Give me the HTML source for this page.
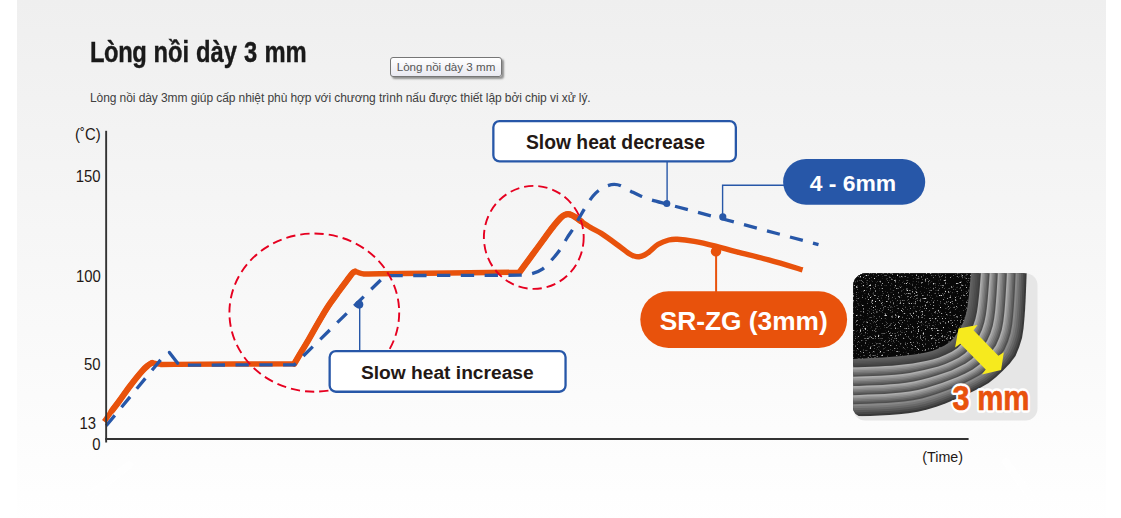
<!DOCTYPE html>
<html lang="vi">
<head>
<meta charset="utf-8">
<title>Lòng nồi dày 3 mm</title>
<style>
html,body{margin:0;padding:0;background:#fff;}
body{width:1121px;height:518px;overflow:hidden;position:relative;font-family:"Liberation Sans",sans-serif;}
#panel{position:absolute;left:17px;top:0;width:1089px;height:518px;
 background:linear-gradient(to bottom,#efefef 0px,#ffffff 527px);}
#h{position:absolute;left:89.5px;top:36.4px;margin:0;font-size:30px;line-height:32px;font-weight:bold;color:#1a1a1a;white-space:nowrap;transform-origin:0 0;transform:scaleX(0.792);word-spacing:0.6px;-webkit-text-stroke:0.4px #1a1a1a;}
#sub{position:absolute;left:90px;top:91px;margin:0;font-size:12px;letter-spacing:-0.083px;line-height:14px;color:#404040;white-space:nowrap;}
#tip{position:absolute;left:390px;top:57px;width:110px;height:17px;padding-bottom:1px;border:1px solid #767676;border-radius:3px;background:linear-gradient(#fff,#e9e9f1);
 box-shadow:2px 2px 2px rgba(0,0,0,.4);font-size:11.6px;line-height:17px;color:#555;text-align:center;white-space:nowrap;}
svg{position:absolute;left:0;top:0;}
svg text{font-family:"Liberation Sans",sans-serif;}
</style>
</head>
<body>
<div id="panel"></div>
<h1 id="h"><span style="letter-spacing:-0.55px">Lòng</span> nồi dày 3 mm</h1>
<p id="sub">Lòng nồi dày 3mm giúp cấp nhiệt phù hợp với chương trình nấu được thiết lập bởi chip vi xử lý.</p>
<div id="tip">Lòng nồi dày 3 mm</div>
<svg width="1121" height="518" viewBox="0 0 1121 518">
<g stroke="#fff" stroke-width="7" stroke-linecap="round" opacity="0.9"><line x1="129" y1="465" x2="92" y2="494"/><line x1="1006" y1="462" x2="1031" y2="497"/></g>
<g id="axlabels" font-size="16" fill="#231815">
<text transform="translate(75,139.6) scale(0.93,1)">(˚C)</text>
<text transform="translate(100.6,182.2) scale(0.93,1)" text-anchor="end">150</text>
<text transform="translate(100.8,281.6) scale(0.93,1)" text-anchor="end">100</text>
<text transform="translate(100.6,369.6) scale(0.93,1)" text-anchor="end">50</text>
<text transform="translate(96,428.6) scale(0.93,1)" text-anchor="end">13</text>
<text transform="translate(100.6,450) scale(0.93,1)" text-anchor="end">0</text>
<text x="922.3" y="462.3" font-size="14.3">(Time)</text>
</g>
<!-- curves -->
<path id="orange" fill="none" stroke="#e8520c" stroke-width="5.4" stroke-linejoin="round" d="M104.2,421.6 C105.5,419.8 109.2,414.4 111.7,411.0 C114.2,407.6 116.0,405.4 119.0,401.3 C122.0,397.2 126.0,391.3 129.8,386.3 C133.6,381.3 139.0,374.6 142.0,371.2 C145.0,367.8 146.1,367.0 147.8,365.6 C149.5,364.2 150.6,363.2 152.0,362.9 C153.4,362.6 155.0,363.4 156.5,363.7 C158.0,363.9 157.9,364.3 161.0,364.4 C164.1,364.5 152.8,364.5 175.0,364.4 C197.2,364.3 274.4,363.8 294.3,363.7 C295.5,361.7 299.1,355.5 301.5,351.5 C303.9,347.5 306.4,343.5 308.7,339.5 C311.0,335.5 313.2,331.5 315.5,327.5 C317.8,323.5 320.1,319.5 322.5,315.5 C324.9,311.5 327.1,307.8 330.0,303.6 C332.9,299.4 336.8,294.2 339.6,290.3 C342.4,286.4 344.8,283.2 347.0,280.3 C349.2,277.4 351.3,274.4 352.6,273.0 C353.9,271.6 354.0,271.7 355.0,271.6 C356.0,271.5 357.0,272.2 358.5,272.6 C360.0,273.0 360.4,273.7 364.0,273.9 C367.6,274.1 354.1,274.1 380.0,273.8 C405.9,273.5 496.3,272.5 519.6,272.2 C521.0,270.2 525.4,264.2 528.3,260.3 C531.2,256.4 534.1,252.4 537.0,248.5 C539.9,244.6 542.9,240.4 545.7,236.6 C548.5,232.8 551.5,228.6 554.0,225.5 C556.5,222.4 558.8,219.8 560.5,218.0 C562.2,216.2 563.2,215.6 564.5,215.0 C565.8,214.4 566.8,214.2 568.0,214.2 C569.2,214.2 570.7,214.6 572.0,215.2 C573.3,215.8 574.5,216.6 576.0,217.6 C577.5,218.6 578.5,219.6 581.0,221.3 C583.5,223.0 587.3,225.6 590.7,227.6 C594.1,229.6 597.0,230.7 601.3,233.4 C605.5,236.1 611.6,240.6 616.2,244.0 C620.8,247.4 625.9,251.6 628.9,253.6 C631.9,255.6 632.3,255.5 634.0,256.0 C635.7,256.5 637.4,256.9 639.1,256.7 C640.9,256.5 642.7,255.9 644.5,255.0 C646.3,254.1 647.4,253.2 649.7,251.4 C652.0,249.6 655.0,246.2 658.2,244.3 C661.4,242.4 665.6,240.8 668.8,240.0 C672.0,239.2 673.0,239.1 677.3,239.3 C681.5,239.5 687.9,240.2 694.3,241.3 C700.7,242.4 708.5,244.3 715.6,246.1 C722.7,247.9 728.0,249.6 736.8,251.9 C745.6,254.2 757.6,256.9 768.6,259.9 C779.6,262.9 796.9,268.2 802.6,269.9"/>
<path fill="none" stroke="#e8520c" stroke-width="6.2" stroke-linecap="round" stroke-linejoin="round" d="M111.7,411.0 C112.9,409.4 116.0,405.4 119.0,401.3 C122.0,397.2 126.0,391.3 129.8,386.3 C133.6,381.3 139.0,374.6 142.0,371.2 C145.0,367.8 146.1,367.0 147.8,365.6 C149.5,364.2 151.3,363.3 152.0,362.9 M294.3,363.7 C295.5,361.7 299.1,355.5 301.5,351.5 C303.9,347.5 306.4,343.5 308.7,339.5 C311.0,335.5 313.2,331.5 315.5,327.5 C317.8,323.5 320.1,319.5 322.5,315.5 C324.9,311.5 327.1,307.8 330.0,303.6 C332.9,299.4 336.8,294.2 339.6,290.3 C342.4,286.4 344.8,283.2 347.0,280.3 C349.2,277.4 351.3,274.4 352.6,273.0 C353.9,271.6 354.6,271.8 355.0,271.6 M519.6,272.2 C521.0,270.2 525.4,264.2 528.3,260.3 C531.2,256.4 534.1,252.4 537.0,248.5 C539.9,244.6 542.9,240.4 545.7,236.6 C548.5,232.8 551.5,228.6 554.0,225.5 C556.5,222.4 558.8,219.8 560.5,218.0 C562.2,216.2 563.2,215.6 564.5,215.0 C565.8,214.4 566.8,214.2 568.0,214.2 C569.2,214.2 570.7,214.6 572.0,215.2 C573.3,215.8 574.5,216.6 576.0,217.6 C577.5,218.6 580.2,220.7 581.0,221.3"/>
<g id="blue" fill="none" stroke="#2757a8" stroke-width="3.3">
<path d="M106.2,425.8 L160.7,359.7" stroke-dasharray="13.5 10.5"/>
<path d="M169.4,352.4 L177.7,363.3" stroke-linecap="round"/>
<path d="M187.9,365.1 L294.3,364.8 L385.2,275.6 L519.6,275.2 C521.7,274.9 528.1,274.7 532.0,273.6 C535.9,272.5 539.4,271.2 542.8,268.8 C546.2,266.4 549.5,262.3 552.5,259.0 C555.5,255.7 558.1,252.5 560.5,249.0 C562.9,245.5 564.8,241.6 567.0,238.0 C569.2,234.4 571.8,231.2 574.0,227.5 C576.2,223.8 578.2,219.7 580.3,216.0 C582.4,212.3 584.4,208.8 586.5,205.5 C588.6,202.2 590.8,198.7 593.0,196.0 C595.2,193.3 597.5,191.2 600.0,189.5 C602.5,187.8 605.5,186.4 607.9,185.6 C610.3,184.8 612.0,184.4 614.2,184.4 C616.4,184.4 618.2,184.6 621.0,185.8 C623.8,187.0 627.7,189.7 631.1,191.4 C634.5,193.1 637.7,194.8 641.2,196.2 C644.7,197.6 647.6,198.8 651.9,200.1 C656.1,201.4 664.2,203.3 666.7,204.0 L818.5,244.6" stroke-dasharray="13.3 10.5"/>
</g>
<!-- axes -->
<g id="axes" fill="#333">
<rect x="105.2" y="130.8" width="1.9" height="311.7"/>
<rect x="105.2" y="438" width="863.4" height="2"/>
</g>
<!-- red circles -->
<g fill="none" stroke="#e60020" stroke-width="1.9" stroke-dasharray="9.3 5">
<ellipse cx="314.3" cy="312.6" rx="84.9" ry="79.1"/>
<ellipse cx="533.8" cy="237.4" rx="49.9" ry="51.5"/>
</g>
<!-- callouts -->
<g id="callouts">
<line x1="359.7" y1="305" x2="359.7" y2="351" stroke="#2757a8" stroke-width="1.4"/>
<circle cx="359.2" cy="304.6" r="4.1" fill="#2757a8"/>
<rect x="329.65" y="351.05" width="235.9" height="40.7" rx="6.2" fill="#fff" stroke="#2757a8" stroke-width="2.3"/>
<text x="447.3" y="379.3" font-size="19.2" font-weight="bold" text-anchor="middle" fill="#231815">Slow heat increase</text>

<line x1="667.1" y1="162" x2="667.1" y2="203" stroke="#2757a8" stroke-width="1.4"/>
<circle cx="666.8" cy="203.6" r="3.5" fill="#2757a8"/>
<rect x="493.35" y="121.05" width="242.5" height="40.4" rx="6.2" fill="#fff" stroke="#2757a8" stroke-width="2.3"/>
<text x="615.5" y="148.9" font-size="19.3" font-weight="bold" text-anchor="middle" fill="#231815">Slow heat decrease</text>

<path d="M722.6,216 L722.6,185.3 L790,185.3" fill="none" stroke="#2757a8" stroke-width="1.4"/>
<circle cx="722.8" cy="216.9" r="3.6" fill="#2757a8"/>
<rect x="783.1" y="159" width="142.1" height="45.8" rx="22.9" fill="#2757a8"/>
<text x="852.9" y="191.2" font-size="22.9" font-weight="bold" text-anchor="middle" fill="#fff">4 - 6mm</text>

<line x1="716.1" y1="251" x2="716.1" y2="295" stroke="#e8520c" stroke-width="2"/>
<circle cx="716" cy="251.4" r="5.2" fill="#e8520c"/>
<rect x="640.3" y="291.3" width="206.8" height="56.6" rx="28.3" fill="#e8520c"/>
<text x="743.7" y="329.8" font-size="26.3" font-weight="bold" text-anchor="middle" fill="#fff">SR-ZG (3mm)</text>
</g>
<!-- pot image -->
<defs>
<clipPath id="potclip"><path d="M866.2,273.2 H1027 V416.5 H862 a8.8,8.8 0 0 1 -8.8,-8.8 V286.2 a13,13 0 0 1 13,-13Z"/></clipPath>
<filter id="speck" x="0" y="0" width="100%" height="100%" color-interpolation-filters="sRGB">
<feTurbulence type="fractalNoise" baseFrequency="0.6" numOctaves="2" seed="11" result="n"/>
<feColorMatrix in="n" type="matrix" values="0 0 0 0 0.85  0 0 0 0 0.85  0 0 0 0 0.85  3 3 0 0 -3.42"/>
<feComposite operator="in" in2="SourceGraphic"/>
</filter>
</defs>
<g id="pot">
<rect x="853.2" y="273.2" width="184.3" height="147.2" rx="12" fill="#e6e6e6"/>
<g clip-path="url(#potclip)">
<path d="M850.2,270.2 L1026.7,270.2 1026.7,271.0 1026.4,280.6 1026.0,290.2 1025.6,299.7 1025.1,309.3 1024.4,318.9 1023.5,328.4 1022.0,337.9 1019.2,347.1 1015.5,355.9 1009.8,363.6 1003.1,370.4 996.2,377.1 988.7,383.0 980.4,387.8 971.8,392.0 963.0,396.0 954.2,399.8 945.4,403.4 936.4,406.8 927.2,409.6 917.9,411.7 908.4,413.2 898.9,414.2 889.3,415.0 879.7,415.5 870.2,415.9 860.6,416.3 851.0,416.6 850.2,416.6Z" fill="#383838"/>
<path d="M850.2,270.2 L1024.9,270.2 1024.9,271.0 1024.5,280.5 1024.2,289.9 1023.7,299.4 1023.2,308.9 1022.6,318.3 1021.7,327.8 1020.1,337.1 1017.3,346.2 1013.6,354.9 1008.1,362.5 1001.4,369.3 994.7,375.9 987.1,381.7 978.9,386.4 970.4,390.6 961.8,394.5 953.1,398.2 944.3,401.7 935.4,405.0 926.3,407.8 917.1,409.8 907.7,411.2 898.3,412.2 888.9,413.0 879.4,413.5 869.9,413.9 860.5,414.2 851.0,414.5 850.2,414.5Z" fill="#484848"/>
<path d="M850.2,270.2 L1023.0,270.2 1023.0,271.0 1022.7,280.4 1022.3,289.7 1021.9,299.1 1021.3,308.4 1020.7,317.8 1019.8,327.1 1018.2,336.3 1015.5,345.3 1011.8,353.9 1006.3,361.5 999.8,368.2 993.1,374.7 985.6,380.4 977.5,385.1 969.1,389.2 960.5,393.0 951.9,396.6 943.2,400.0 934.4,403.2 925.5,405.9 916.3,407.9 907.0,409.2 897.7,410.2 888.4,410.9 879.1,411.5 869.7,411.8 860.4,412.2 851.0,412.5 850.2,412.5Z" fill="#585858"/>
<path d="M850.2,270.2 L1021.2,270.2 1021.2,271.0 1020.8,280.3 1020.5,289.5 1020.0,298.8 1019.5,308.0 1018.8,317.2 1017.9,326.5 1016.3,335.6 1013.6,344.4 1009.9,352.9 1004.5,360.4 998.1,367.1 991.5,373.5 984.1,379.1 976.1,383.7 967.8,387.8 959.3,391.5 950.7,395.0 942.1,398.3 933.4,401.4 924.6,404.0 915.5,405.9 906.4,407.3 897.2,408.2 887.9,408.9 878.7,409.4 869.5,409.8 860.2,410.1 851.0,410.4 850.2,410.4Z" fill="#686868"/>
<path d="M850.2,270.2 L1019.4,270.2 1019.4,271.0 1019.0,280.2 1018.6,289.3 1018.2,298.4 1017.6,307.6 1016.9,316.7 1016.0,325.8 1014.4,334.8 1011.7,343.6 1008.1,351.9 1002.8,359.4 996.4,365.9 989.9,372.3 982.6,377.9 974.6,382.3 966.4,386.3 958.0,390.0 949.6,393.4 941.1,396.6 932.4,399.6 923.7,402.1 914.7,404.0 905.7,405.3 896.6,406.2 887.5,406.9 878.4,407.4 869.2,407.8 860.1,408.1 851.0,408.4 850.2,408.4Z" fill="#787878"/>
<path d="M850.2,270.2 L1017.5,270.2 1017.5,271.0 1017.2,280.0 1016.8,289.1 1016.3,298.1 1015.7,307.1 1015.0,316.2 1014.1,325.1 1012.5,334.0 1009.9,342.7 1006.3,351.0 1001.0,358.3 994.8,364.8 988.3,371.2 981.1,376.6 973.2,381.0 965.1,384.9 956.8,388.5 948.4,391.8 940.0,394.9 931.5,397.8 922.8,400.3 913.9,402.1 905.0,403.3 896.0,404.2 887.0,404.9 878.0,405.4 869.0,405.7 860.0,406.0 851.0,406.3 850.2,406.3Z" fill="#888888"/>
<path d="M850.2,270.2 L1015.7,270.2 1015.7,271.0 1015.3,279.9 1014.9,288.9 1014.4,297.8 1013.8,306.7 1013.1,315.6 1012.2,324.5 1010.6,333.3 1008.0,341.8 1004.4,350.0 999.3,357.2 993.1,363.7 986.7,370.0 979.6,375.3 971.8,379.6 963.8,383.5 955.5,387.0 947.2,390.2 938.9,393.2 930.5,396.0 921.9,398.4 913.2,400.2 904.3,401.4 895.5,402.2 886.6,402.9 877.7,403.3 868.8,403.7 859.9,404.0 851.0,404.3 850.2,404.3Z" fill="#4f4f4f"/>
<path d="M850.2,270.2 L1014.2,270.2 1014.2,271.0 1013.9,279.9 1013.4,288.7 1013.0,297.5 1012.4,306.4 1011.7,315.2 1010.7,324.0 1009.1,332.7 1006.5,341.1 1003.0,349.2 997.9,356.4 991.8,362.8 985.5,369.0 978.4,374.3 970.7,378.6 962.7,382.4 954.6,385.8 946.4,389.0 938.1,392.0 929.7,394.7 921.2,397.0 912.6,398.7 903.8,399.9 895.0,400.7 886.2,401.4 877.4,401.8 868.6,402.2 859.8,402.5 851.0,402.8 850.2,402.8Z" fill="#626262"/>
<path d="M850.2,270.2 L1012.8,270.2 1012.8,271.0 1012.4,279.8 1012.0,288.5 1011.5,297.3 1010.9,306.0 1010.2,314.8 1009.2,323.5 1007.7,332.1 1005.1,340.4 1001.6,348.5 996.5,355.6 990.5,362.0 984.3,368.1 977.3,373.3 969.6,377.5 961.7,381.3 953.6,384.7 945.5,387.7 937.3,390.7 929.0,393.3 920.5,395.6 912.0,397.3 903.3,398.4 894.6,399.2 885.9,399.9 877.2,400.3 868.4,400.7 859.7,400.9 851.0,401.2 850.2,401.2Z" fill="#757575"/>
<path d="M850.2,270.2 L1011.3,270.2 1011.3,271.0 1010.9,279.7 1010.5,288.4 1010.0,297.0 1009.4,305.7 1008.7,314.3 1007.8,323.0 1006.2,331.5 1003.6,339.8 1000.2,347.7 995.2,354.8 989.3,361.1 983.1,367.2 976.1,372.3 968.5,376.5 960.7,380.2 952.7,383.5 944.6,386.5 936.5,389.4 928.2,392.0 919.9,394.2 911.4,395.8 902.8,396.9 894.2,397.7 885.6,398.4 876.9,398.8 868.3,399.1 859.6,399.4 851.0,399.7 850.2,399.7Z" fill="#878787"/>
<path d="M850.2,270.2 L1009.9,270.2 1009.9,271.0 1009.5,279.6 1009.1,288.2 1008.6,296.8 1008.0,305.4 1007.2,313.9 1006.3,322.4 1004.7,330.9 1002.2,339.1 998.7,346.9 993.8,354.0 988.0,360.3 981.9,366.3 975.0,371.4 967.4,375.5 959.7,379.2 951.7,382.4 943.7,385.3 935.6,388.1 927.5,390.6 919.2,392.8 910.8,394.4 902.3,395.5 893.8,396.2 885.2,396.9 876.7,397.3 868.1,397.6 859.5,397.9 851.0,398.2 850.2,398.2Z" fill="#9a9a9a"/>
<path d="M850.2,270.2 L1008.4,270.2 1008.4,271.0 1008.0,279.5 1007.6,288.0 1007.1,296.5 1006.5,305.0 1005.8,313.5 1004.8,321.9 1003.3,330.3 1000.7,338.4 997.3,346.2 992.4,353.1 986.7,359.4 980.7,365.4 973.8,370.4 966.3,374.4 958.7,378.1 950.8,381.2 942.8,384.1 934.8,386.8 926.7,389.3 918.5,391.4 910.2,392.9 901.8,394.0 893.3,394.7 884.9,395.4 876.4,395.8 867.9,396.1 859.5,396.4 851.0,396.7 850.2,396.7Z" fill="#adadad"/>
<path d="M850.2,270.2 L1007.0,270.2 1007.0,271.0 1006.6,279.4 1006.1,287.9 1005.6,296.3 1005.0,304.7 1004.3,313.1 1003.3,321.4 1001.8,329.7 999.3,337.7 995.9,345.4 991.1,352.3 985.4,358.5 979.5,364.5 972.7,369.4 965.3,373.4 957.6,377.0 949.8,380.1 941.9,382.9 934.0,385.5 926.0,387.9 917.9,389.9 909.6,391.5 901.3,392.5 892.9,393.3 884.5,393.9 876.1,394.3 867.8,394.6 859.4,394.9 851.0,395.2 850.2,395.2Z" fill="#4f4f4f"/>
<path d="M850.2,270.2 L1005.5,270.2 1005.5,271.0 1005.0,279.3 1004.6,287.7 1004.1,296.0 1003.5,304.3 1002.8,312.6 1001.8,320.9 1000.3,329.1 997.8,337.0 994.4,344.6 989.7,351.5 984.1,357.7 978.2,363.5 971.5,368.4 964.1,372.3 956.6,375.9 948.9,378.9 941.1,381.7 933.2,384.2 925.2,386.6 917.2,388.5 909.0,390.0 900.8,391.0 892.5,391.8 884.2,392.4 875.9,392.8 867.6,393.1 859.3,393.4 851.0,393.7 850.2,393.7Z" fill="#626262"/>
<path d="M850.2,270.2 L1004.0,270.2 1004.0,271.0 1003.5,279.3 1003.1,287.5 1002.6,295.7 1002.0,304.0 1001.3,312.2 1000.3,320.4 998.8,328.5 996.3,336.3 993.0,343.9 988.3,350.7 982.8,356.8 977.0,362.6 970.3,367.4 963.0,371.3 955.6,374.8 947.9,377.8 940.2,380.4 932.4,382.9 924.5,385.2 916.5,387.1 908.4,388.6 900.3,389.6 892.1,390.3 883.9,390.9 875.6,391.3 867.4,391.6 859.2,391.9 851.0,392.2 850.2,392.2Z" fill="#757575"/>
<path d="M850.2,270.2 L1002.4,270.2 1002.4,271.0 1002.0,279.2 1001.6,287.3 1001.1,295.5 1000.5,303.6 999.7,311.7 998.8,319.8 997.3,327.9 994.8,335.6 991.5,343.1 986.9,349.8 981.5,355.9 975.7,361.7 969.1,366.4 961.9,370.2 954.6,373.7 947.0,376.6 939.3,379.2 931.5,381.6 923.7,383.8 915.8,385.7 907.8,387.1 899.7,388.1 891.6,388.8 883.5,389.4 875.4,389.8 867.3,390.1 859.1,390.4 851.0,390.7 850.2,390.7Z" fill="#878787"/>
<path d="M850.2,270.2 L1000.9,270.2 1000.9,271.0 1000.5,279.1 1000.1,287.1 999.5,295.2 998.9,303.3 998.2,311.3 997.3,319.3 995.7,327.2 993.3,334.9 990.1,342.3 985.5,349.0 980.2,355.0 974.5,360.7 968.0,365.4 960.8,369.2 953.5,372.6 946.0,375.5 938.4,378.0 930.7,380.3 923.0,382.5 915.2,384.3 907.2,385.7 899.2,386.6 891.2,387.3 883.2,387.9 875.1,388.3 867.1,388.6 859.0,388.9 851.0,389.2 850.2,389.2Z" fill="#9a9a9a"/>
<path d="M850.2,270.2 L999.4,270.2 999.4,271.0 999.0,279.0 998.5,287.0 998.0,294.9 997.4,302.9 996.7,310.9 995.7,318.8 994.2,326.6 991.8,334.3 988.6,341.5 984.1,348.1 978.9,354.1 973.3,359.8 966.8,364.4 959.7,368.1 952.5,371.5 945.0,374.3 937.5,376.8 929.9,379.1 922.2,381.1 914.5,382.9 906.6,384.2 898.7,385.2 890.8,385.8 882.8,386.4 874.9,386.8 866.9,387.1 859.0,387.4 851.0,387.7 850.2,387.7Z" fill="#adadad"/>
<path d="M850.2,270.2 L997.9,270.2 997.9,271.0 997.5,278.9 997.0,286.8 996.5,294.7 995.9,302.6 995.2,310.4 994.2,318.3 992.7,326.0 990.4,333.6 987.1,340.8 982.7,347.3 977.6,353.3 972.0,358.9 965.6,363.4 958.6,367.1 951.5,370.4 944.1,373.1 936.6,375.5 929.1,377.8 921.5,379.8 913.8,381.5 906.1,382.8 898.2,383.7 890.4,384.3 882.5,384.9 874.6,385.3 866.7,385.6 858.9,385.9 851.0,386.2 850.2,386.2Z" fill="#4f4f4f"/>
<path d="M850.2,270.2 L996.6,270.2 996.6,271.0 996.1,278.8 995.6,286.6 995.1,294.4 994.5,302.2 993.8,310.0 992.8,317.8 991.3,325.5 989.0,332.9 985.8,340.0 981.4,346.5 976.4,352.4 970.9,358.0 964.5,362.5 957.5,366.1 950.5,369.4 943.1,372.0 935.7,374.3 928.3,376.5 920.8,378.4 913.2,380.0 905.5,381.3 897.7,382.2 889.9,382.8 882.2,383.4 874.4,383.7 866.6,384.1 858.8,384.3 851.0,384.6 850.2,384.6Z" fill="#626262"/>
<path d="M850.2,270.2 L995.2,270.2 995.2,271.0 994.7,278.7 994.3,286.5 993.8,294.2 993.1,301.9 992.4,309.6 991.4,317.3 989.9,324.9 987.6,332.3 984.4,339.3 980.1,345.7 975.1,351.6 969.7,357.1 963.3,361.5 956.5,365.0 949.5,368.3 942.2,370.9 934.8,373.1 927.5,375.2 920.0,377.1 912.5,378.6 904.9,379.8 897.2,380.7 889.5,381.3 881.8,381.8 874.1,382.2 866.4,382.5 858.7,382.8 851.0,383.1 850.2,383.1Z" fill="#757575"/>
<path d="M850.2,270.2 L993.9,270.2 993.9,271.0 993.4,278.7 992.9,286.3 992.4,294.0 991.7,301.6 991.0,309.2 990.0,316.8 988.5,324.3 986.2,331.6 983.0,338.6 978.8,344.9 973.9,350.8 968.5,356.2 962.2,360.5 955.4,364.0 948.5,367.2 941.3,369.8 934.0,371.9 926.6,373.9 919.3,375.7 911.8,377.2 904.3,378.4 896.7,379.2 889.1,379.8 881.5,380.3 873.8,380.7 866.2,381.0 858.6,381.2 851.0,381.5 850.2,381.5Z" fill="#878787"/>
<path d="M850.2,270.2 L992.5,270.2 992.5,271.0 992.0,278.6 991.5,286.2 991.0,293.7 990.4,301.3 989.6,308.8 988.6,316.3 987.1,323.7 984.8,331.0 981.7,337.8 977.5,344.1 972.6,349.9 967.3,355.3 961.1,359.6 954.3,363.0 947.5,366.2 940.3,368.6 933.1,370.7 925.8,372.6 918.5,374.4 911.1,375.8 903.7,376.9 896.2,377.7 888.6,378.3 881.1,378.8 873.6,379.1 866.0,379.4 858.5,379.7 851.0,379.9 850.2,379.9Z" fill="#9a9a9a"/>
<path d="M850.2,270.2 L991.1,270.2 991.1,271.0 990.7,278.5 990.2,286.0 989.6,293.5 989.0,301.0 988.2,308.4 987.2,315.8 985.7,323.2 983.4,330.3 980.3,337.1 976.2,343.3 971.4,349.1 966.1,354.4 960.0,358.6 953.3,362.0 946.5,365.1 939.4,367.5 932.2,369.5 925.0,371.4 917.8,373.0 910.5,374.4 903.1,375.5 895.7,376.2 888.2,376.8 880.8,377.3 873.3,377.6 865.9,377.9 858.4,378.1 851.0,378.4 850.2,378.4Z" fill="#adadad"/>
<path d="M850.2,270.2 L989.8,270.2 989.8,271.0 989.3,278.4 988.8,285.8 988.2,293.2 987.6,300.6 986.8,308.0 985.8,315.3 984.3,322.6 982.0,329.7 978.9,336.4 974.9,342.6 970.1,348.2 964.9,353.5 958.8,357.7 952.2,361.0 945.4,364.0 938.4,366.4 931.3,368.3 924.2,370.1 917.0,371.6 909.8,373.0 902.5,374.0 895.1,374.8 887.8,375.3 880.4,375.7 873.1,376.0 865.7,376.3 858.3,376.5 851.0,376.8 850.2,376.8Z" fill="#4f4f4f"/>
<path d="M850.2,270.2 L988.3,270.2 988.3,271.0 987.8,278.3 987.3,285.7 986.8,293.0 986.1,300.3 985.3,307.6 984.3,314.8 982.8,322.0 980.6,329.0 977.5,335.6 973.5,341.7 968.9,347.4 963.7,352.6 957.6,356.7 951.1,359.9 944.4,362.9 937.5,365.2 930.4,367.1 923.4,368.8 916.3,370.3 909.1,371.5 901.9,372.5 894.6,373.2 887.3,373.8 880.1,374.2 872.8,374.5 865.5,374.8 858.3,375.0 851.0,375.2 850.2,375.2Z" fill="#626262"/>
<path d="M850.2,270.2 L986.9,270.2 986.9,271.0 986.4,278.3 985.9,285.5 985.3,292.7 984.6,300.0 983.8,307.2 982.8,314.3 981.3,321.4 979.1,328.3 976.0,334.8 972.1,340.9 967.6,346.5 962.5,351.7 956.5,355.7 950.0,358.9 943.4,361.8 936.5,364.0 929.5,365.8 922.5,367.4 915.5,368.9 908.4,370.1 901.3,371.0 894.1,371.7 886.9,372.2 879.7,372.6 872.5,372.9 865.3,373.2 858.2,373.4 851.0,373.7 850.2,373.7Z" fill="#757575"/>
<path d="M850.2,270.2 L985.4,270.2 985.4,271.0 984.9,278.2 984.4,285.3 983.8,292.5 983.2,299.6 982.3,306.7 981.3,313.8 979.8,320.8 977.6,327.6 974.6,334.1 970.7,340.1 966.3,345.6 961.2,350.7 955.3,354.7 948.9,357.8 942.3,360.7 935.5,362.9 928.6,364.6 921.7,366.1 914.7,367.5 907.7,368.7 900.7,369.6 893.6,370.2 886.5,370.7 879.4,371.1 872.3,371.4 865.2,371.6 858.1,371.9 851.0,372.1 850.2,372.1Z" fill="#878787"/>
<path d="M850.2,270.2 L984.0,270.2 984.0,271.0 983.5,278.1 982.9,285.2 982.3,292.2 981.7,299.3 980.9,306.3 979.8,313.3 978.4,320.2 976.2,326.9 973.2,333.3 969.4,339.2 965.0,344.8 960.0,349.8 954.1,353.7 947.8,356.8 941.3,359.6 934.6,361.7 927.7,363.4 920.9,364.8 914.0,366.1 907.0,367.2 900.1,368.1 893.1,368.7 886.0,369.2 879.0,369.5 872.0,369.8 865.0,370.1 858.0,370.3 851.0,370.5 850.2,370.5Z" fill="#9a9a9a"/>
<path d="M850.2,270.2 L982.5,270.2 982.5,271.0 982.0,278.0 981.5,285.0 980.9,292.0 980.2,298.9 979.4,305.9 978.4,312.8 976.9,319.6 974.7,326.2 971.7,332.5 968.0,338.4 963.7,343.9 958.8,348.9 953.0,352.7 946.7,355.7 940.3,358.5 933.6,360.5 926.8,362.1 920.0,363.5 913.2,364.7 906.4,365.8 899.5,366.6 892.5,367.2 885.6,367.6 878.7,368.0 871.7,368.3 864.8,368.5 857.9,368.7 851.0,369.0 850.2,369.0Z" fill="#adadad"/>
<path d="M850.2,270.2 L981.1,270.2 981.1,271.0 980.5,277.9 980.0,284.8 979.4,291.7 978.7,298.6 977.9,305.4 976.9,312.3 975.4,319.0 973.2,325.5 970.3,331.8 966.6,337.6 962.4,343.0 957.6,347.9 951.8,351.7 945.6,354.7 939.2,357.4 932.6,359.4 925.9,360.9 919.2,362.2 912.5,363.4 905.7,364.3 898.9,365.1 892.0,365.7 885.2,366.1 878.3,366.5 871.5,366.7 864.6,367.0 857.8,367.2 851.0,367.4 850.2,367.4Z" fill="#3e3e3e"/>
<path d="M850.2,270.2 L979.4,270.2 979.4,271.0 978.9,277.8 978.3,284.6 977.7,291.4 977.1,298.2 976.3,305.0 975.2,311.7 973.8,318.3 971.7,324.8 968.8,331.0 965.1,336.7 961.0,342.1 956.3,347.0 950.6,350.6 944.4,353.6 938.2,356.3 931.7,358.2 925.0,359.6 918.4,360.9 911.7,362.0 905.0,362.9 898.3,363.7 891.5,364.3 884.8,364.7 878.0,365.0 871.2,365.3 864.5,365.5 857.7,365.8 851.0,366.0 850.2,366.0Z" fill="#464646"/>
<path d="M850.2,270.2 L977.7,270.2 977.7,271.0 977.2,277.7 976.7,284.4 976.1,291.1 975.4,297.8 974.6,304.5 973.6,311.1 972.2,317.7 970.1,324.1 967.2,330.1 963.7,335.8 959.7,341.2 955.0,346.0 949.4,349.6 943.3,352.5 937.1,355.2 930.7,357.0 924.1,358.4 917.6,359.6 911.0,360.6 904.3,361.5 897.7,362.3 891.0,362.8 884.3,363.2 877.7,363.6 871.0,363.9 864.3,364.1 857.7,364.4 851.0,364.6 850.2,364.6Z" fill="#4d4d4d"/>
<path d="M850.2,270.2 L976.0,270.2 976.0,271.0 975.5,277.6 975.0,284.2 974.4,290.8 973.8,297.4 973.0,304.0 972.0,310.6 970.6,317.0 968.5,323.3 965.7,329.3 962.2,335.0 958.3,340.3 953.7,345.0 948.1,348.6 942.2,351.4 936.1,354.1 929.7,355.9 923.3,357.2 916.7,358.3 910.2,359.3 903.7,360.1 897.1,360.8 890.5,361.4 883.9,361.8 877.3,362.1 870.8,362.4 864.2,362.7 857.6,362.9 851.0,363.2 850.2,363.2Z" fill="#555555"/>
<path d="M850.2,270.2 L974.4,270.2 974.4,271.0 973.8,277.5 973.3,284.0 972.8,290.6 972.1,297.1 971.3,303.5 970.3,310.0 968.9,316.4 966.9,322.6 964.1,328.5 960.8,334.1 956.9,339.3 952.4,344.1 946.9,347.6 941.0,350.3 935.0,352.9 928.8,354.7 922.4,355.9 915.9,357.0 909.5,357.9 903.0,358.7 896.5,359.4 890.0,360.0 883.5,360.4 877.0,360.7 870.5,361.0 864.0,361.3 857.5,361.5 851.0,361.8 850.2,361.8Z" fill="#5c5c5c"/>
<path d="M850.2,270.2 L972.7,270.2 972.7,271.0 972.2,277.4 971.7,283.8 971.1,290.3 970.5,296.7 969.7,303.1 968.7,309.4 967.3,315.7 965.3,321.8 962.6,327.7 959.3,333.2 955.6,338.4 951.1,343.1 945.7,346.5 939.9,349.3 934.0,351.8 927.8,353.5 921.5,354.7 915.1,355.7 908.7,356.6 902.3,357.4 895.9,358.0 889.5,358.5 883.1,358.9 876.7,359.3 870.3,359.6 863.8,359.9 857.4,360.1 851.0,360.4 850.2,360.4Z" fill="#646464"/>
<path d="M850.2,270.2 L971.0,270.2 971.0,271.0 970.5,277.3 970.0,283.7 969.4,290.0 968.8,296.3 968.0,302.6 967.1,308.9 965.7,315.1 963.8,321.1 961.1,326.8 957.8,332.3 954.2,337.5 949.9,342.1 944.5,345.5 938.8,348.2 932.9,350.7 926.8,352.3 920.6,353.5 914.3,354.4 908.0,355.2 901.7,356.0 895.4,356.6 889.0,357.1 882.7,357.5 876.4,357.8 870.0,358.1 863.7,358.4 857.3,358.7 851.0,359.0 850.2,359.0Z" fill="#080808"/>
<path d="M850.2,270.2 L971.0,270.2 971.0,271.0 970.5,277.3 970.0,283.7 969.4,290.0 968.8,296.3 968.0,302.6 967.1,308.9 965.7,315.1 963.8,321.1 961.1,326.8 957.8,332.3 954.2,337.5 949.9,342.1 944.5,345.5 938.8,348.2 932.9,350.7 926.8,352.3 920.6,353.5 914.3,354.4 908.0,355.2 901.7,356.0 895.4,356.6 889.0,357.1 882.7,357.5 876.4,357.8 870.0,358.1 863.7,358.4 857.3,358.7 851.0,359.0 850.2,359.0Z" fill="#fff" filter="url(#speck)"/>
</g>
<path d="M958.5,328.6 L977.6,324.9 L973.5,330.3 L998.4,355.7 L1003.8,352.2 L1001.1,370.1 L981.9,374.6 L985.7,369.5 L960.3,343.8 L955.1,347.6Z" fill="#f6ea1e"/>
<g font-size="35.5" font-weight="bold" stroke-linejoin="round">
<g fill="#fff" stroke="#fff" stroke-width="5.6"><text transform="translate(952.6,410) scale(0.86,1)">3</text><text transform="translate(977.2,410) scale(0.828,1)">mm</text></g>
<g fill="#e8520c" stroke="#e8520c" stroke-width="0.7"><text transform="translate(952.6,410) scale(0.86,1)">3</text><text transform="translate(977.2,410) scale(0.828,1)">mm</text></g>
</g>
</g>
</svg>
</body>
</html>
